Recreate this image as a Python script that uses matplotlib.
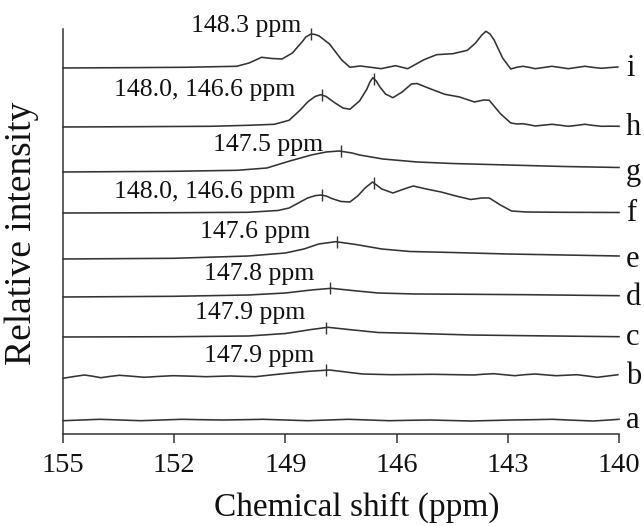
import numpy as np
import matplotlib
matplotlib.use("Agg")
from matplotlib import pyplot as plt

plt.rcParams.update({
    "font.family": ["Liberation Serif", "DejaVu Serif"],
    "font.size": 20,
})

# spectra (ppm, intensity above own baseline)
ppm_a = [155.0, 154.5, 154.0, 153.45, 152.9, 152.35, 151.8, 151.25, 150.7, 150.15, 149.6, 149.0, 148.4,
         147.85, 147.3, 146.75, 146.2, 145.65, 145.1, 144.55, 144.0, 143.45, 142.9, 142.35, 141.8,
         141.25, 140.7, 140.35, 140.0]
int_a = [-0.7, 0.0, 0.7, 0.0, -0.7, 0.0, 0.7, 0.3, 0.0, 0.3, 0.7, 0.0, -0.7,
         0.0, 0.7, 0.0, -0.7, -0.3, 0.0, -0.5, -1.0, -0.5, 0.0, 0.3, 0.7,
         -0.2, -1.0, -0.2, 0.7]

ppm_b = [155.0, 154.7, 154.42, 154.2, 153.98, 153.73, 153.48, 153.15, 152.81, 152.42, 152.03, 151.6,
         151.14, 150.8, 150.48, 150.15, 149.81, 149.14, 148.37, 147.81, 147.26, 146.92, 146.14,
         145.03, 143.92, 143.65, 143.37, 143.1, 142.81, 142.55, 142.26, 142.0, 141.7, 141.4, 141.14,
         140.85, 140.59, 140.3, 140.03]
int_b = [-2.3, -0.5, 1.0, -0.2, -1.7, -0.4, 0.7, -0.2, -1.3, -0.4, 0.3, -0.1,
         -0.7, -0.3, 0.0, -0.4, -0.7, 2.0, 4.7, 6.0, 3.5, 2.0, 1.3,
         1.7, 1.0, 1.8, 2.3, 1.3, 0.3, 1.3, 2.0, 1.2, 0.3, 0.8, 1.3,
         0.0, -1.3, 0.0, 1.3]

ppm_c = [155.0, 152.0, 150.0, 149.0, 148.3, 147.85, 147.3, 146.5, 145.6, 144.0, 142.5, 141.0, 140.0]
int_c = [0.0, 0.3, 1.0, 3.5, 7.5, 9.7, 7.5, 4.5, 3.7, 2.0, 1.3, 0.7, 0.3]

ppm_d = [155.0, 152.0, 150.0, 149.0, 148.3, 147.76, 147.2, 146.5, 145.5, 144.0, 142.5, 141.0, 140.0]
int_d = [0.0, 0.7, 2.0, 4.0, 7.0, 8.7, 6.5, 4.0, 3.0, 2.7, 2.3, 1.7, 1.3]

ppm_e = [155.0, 152.0, 150.0, 149.0, 148.5, 148.1, 147.64, 147.1, 146.4, 145.64, 144.5, 143.0, 141.5, 140.0]
int_e = [0.0, 0.7, 3.0, 6.0, 10.0, 15.0, 17.3, 14.5, 10.0, 7.5, 6.5, 5.0, 4.0, 3.0]

ppm_f = [155.0, 152.0, 150.0, 149.2, 148.9, 148.6, 148.4, 148.2, 148.05, 147.9, 147.75, 147.5, 147.26,
         147.05, 146.85, 146.65, 146.4, 146.1, 145.8, 145.55, 145.2, 144.8, 144.4, 144.0, 143.7,
         143.5, 143.2, 142.9, 142.5, 141.5, 140.0]
int_f = [0.0, 0.3, 0.7, 2.5, 5.0, 11.0, 15.0, 17.3, 18.0, 17.0, 14.5, 11.5, 11.0,
         17.0, 25.0, 31.0, 24.0, 20.0, 24.0, 27.0, 24.0, 21.0, 17.0, 13.5, 15.0,
         15.0, 8.0, 2.0, 1.0, 0.7, 0.5]

ppm_g = [155.0, 152.0, 150.3, 149.5, 148.88, 148.3, 147.9, 147.55, 147.2, 147.0, 146.37, 145.45,
         144.5, 143.0, 141.5, 140.0]
int_g = [0.0, 0.7, 1.7, 4.0, 11.0, 17.0, 20.0, 21.0, 19.0, 17.0, 13.0, 10.0,
         8.5, 7.0, 5.5, 4.5]

ppm_h = [155.0, 153.0, 151.0, 150.0, 149.3, 148.9, 148.6, 148.4, 148.2, 148.05, 147.9, 147.7, 147.45,
         147.26, 147.0, 146.8, 146.72, 146.64, 146.55, 146.45, 146.3, 146.1, 145.85, 145.6, 145.45,
         145.1, 144.7, 144.3, 143.9, 143.65, 143.5, 143.2, 142.92, 142.75, 142.6, 142.42, 142.26,
         142.05, 141.81, 141.6, 141.37, 141.15, 140.92, 140.7, 140.48, 140.25, 140.0]
int_h = [0.0, 0.3, 0.7, 1.7, 2.7, 6.7, 17.0, 25.0, 30.5, 32.3, 30.5, 25.0, 19.0,
         17.7, 26.0, 38.0, 45.0, 49.3, 46.0, 40.0, 33.0, 29.3, 35.0, 43.0, 43.5,
         38.3, 32.7, 30.0, 25.0, 27.0, 26.7, 13.3, 4.0, 3.0, 3.3, 2.2, 1.0,
         1.8, 2.7, 1.8, 0.7, 1.6, 2.7, 1.6, 0.7, 0.8, 0.7]

ppm_i = [155.0, 153.37, 151.7, 150.31, 149.98, 149.64, 149.37, 149.09, 148.81, 148.53, 148.45, 148.31,
         148.2, 148.09, 147.81, 147.48, 147.26, 146.98, 146.7, 146.42, 146.03, 145.7, 145.26, 144.92,
         144.48, 144.09, 143.87, 143.7, 143.59, 143.48, 143.37, 143.14, 142.92, 142.75, 142.59,
         142.42, 142.26, 142.05, 141.81, 141.6, 141.37, 141.15, 140.92, 140.7, 140.48, 140.25, 140.03]
int_i = [0.0, 0.3, 0.7, 1.7, 5.0, 10.7, 9.5, 9.0, 15.0, 27.0, 31.0, 34.0,
         33.5, 32.0, 24.0, 8.0, 0.7, 2.0, 0.7, -0.7, 2.3, -0.7, 8.3, 13.3,
         14.3, 17.7, 25.0, 33.0, 36.7, 34.0, 28.0, 10.0, -1.0, 0.8, 1.7,
         0.6, -0.7, 0.4, 1.7, 0.6, -0.7, 0.5, 1.7, 0.6, -0.3, 0.4, 1.0]

names = ["a", "b", "c", "d", "e", "f", "g", "h", "i"]
ppms = [ppm_a, ppm_b, ppm_c, ppm_d, ppm_e, ppm_f, ppm_g, ppm_h, ppm_i]
ints = [int_a, int_b, int_c, int_d, int_e, int_f, int_g, int_h, int_i]

# marked peak positions and their labels
peaks = [[], [147.9], [147.9], [147.8], [147.6], [148.0, 146.6], [147.5], [148.0, 146.6], [148.3]]
peak_labels = ["", "147.9 ppm", "147.9 ppm", "147.8 ppm", "147.6 ppm",
               "148.0, 146.6 ppm", "147.5 ppm", "148.0, 146.6 ppm", "148.3 ppm"]

# layout: vertical offset of each trace, and where its label sits
offsets = [14, 58, 97, 137, 175, 221, 262, 307, 366]
label_x = [None, 148.23, 148.47, 148.23, 148.34, 148.74, 147.99, 148.74, 148.58]
label_lift = [0, 14, 18, 17, 21, 15, 21, 31, 36]

fig = plt.figure(figsize=(6.44, 5.26), dpi=100)
ax = fig.add_axes([0.0978, 0.1749, 0.8634, 0.77])

line_color = "#333333"
for k, name in enumerate(names):
    x = np.array(ppms[k])
    y = np.array(ints[k]) + offsets[k]
    ax.plot(x, y, color=line_color, lw=1.15, clip_on=False, solid_joinstyle="round")

    # peak ticks
    for p in peaks[k]:
        yp = np.interp(p, x[::-1], y[::-1])
        ax.plot([p], [yp], marker="|", ms=8, mew=1.0, color=line_color, clip_on=False)

    if peak_labels[k]:
        ax.text(label_x[k], offsets[k] + label_lift[k], peak_labels[k], fontsize=18.5,
                ha="right", va="baseline", color="#111111", clip_on=False)

    ax.annotate(name, xy=(140, offsets[k]), xytext=(5, -6), textcoords="offset points",
                fontsize=22, ha="left", va="baseline", color="#111111", annotation_clip=False)

ax.set_xlim(155, 140)
ax.set_ylim(0, 405)
ax.set_xticks([155, 152, 149, 146, 143, 140])
ax.set_yticks([])
ax.tick_params(axis="x", direction="out", length=6.5, width=1.1, pad=7, labelsize=20.5,
               color="#333333", labelcolor="#111111")

for side in ["top", "right"]:
    ax.spines[side].set_visible(False)
for side in ["left", "bottom"]:
    ax.spines[side].set_linewidth(1.1)
    ax.spines[side].set_color("#333333")

fig.text(357 / 644, 1 - 516 / 526, "Chemical shift (ppm)", fontsize=24,
         ha="center", va="baseline", color="#111111")
fig.text(22 / 644, 1 - 233 / 526, "Relative intensity", fontsize=27, rotation=90,
         ha="center", va="center", color="#111111")

fig.savefig("out.png", dpi=100)
